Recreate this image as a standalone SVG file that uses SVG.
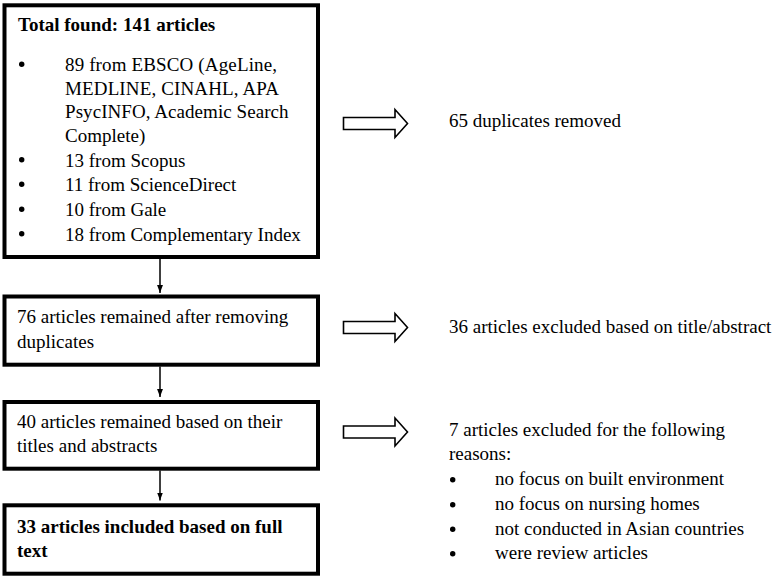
<svg xmlns="http://www.w3.org/2000/svg" width="776" height="579" viewBox="0 0 776 579">
<style>
.box{fill:#fff;stroke:#000;stroke-width:4}
text{font-family:"Liberation Serif","Times New Roman",serif;font-size:19px;fill:#000}
.b{font-weight:bold}
.con{stroke:#000;stroke-width:1.5;fill:none}
.hol{fill:#fff;stroke:#000;stroke-width:1.6;stroke-linejoin:miter}
.dot{fill:#000}
</style>
<defs>
<marker id="ah" markerWidth="8" markerHeight="11" refX="11" refY="4" orient="auto" markerUnits="userSpaceOnUse" viewBox="0 0 11 8">
<path d="M0,0 L11,4 L0,8 Z" fill="#000"/>
</marker>
<path id="hollow" d="M0,-6 L51.5,-6 L51.5,-14 L64,0 L51.5,14 L51.5,6 L0,6 Z"/>
</defs>
<rect width="776" height="579" fill="#fff"/>
<g id="connectors">
<line class="con" x1="160" y1="259" x2="160" y2="293" marker-end="url(#ah)"/>
<line class="con" x1="160" y1="366.5" x2="160" y2="397" marker-end="url(#ah)"/>
<line class="con" x1="160" y1="470.5" x2="160" y2="500.5" marker-end="url(#ah)"/>
<use href="#hollow" class="hol" x="343.5" y="123.5"/>
<use href="#hollow" class="hol" x="343.5" y="327.5"/>
<use href="#hollow" class="hol" x="343.5" y="432"/>
</g>
<g id="n1">
<rect class="box" x="4.5" y="5.3" width="313.5" height="251.7"/>
<text class="b" x="18" y="31">Total found: 141 articles</text>
<circle class="dot" cx="21.7" cy="64.3" r="2.7"/>
<text x="65" y="71" textLength="212" lengthAdjust="spacing">89 from EBSCO (AgeLine,</text>
<text x="65" y="94.5" textLength="214" lengthAdjust="spacing">MEDLINE, CINAHL, APA</text>
<text x="65" y="118" textLength="223.5" lengthAdjust="spacing">PsycINFO, Academic Search</text>
<text x="65" y="141.5">Complete)</text>
<circle class="dot" cx="21.7" cy="159.8" r="2.7"/>
<text x="65" y="166.5">13 from Scopus</text>
<circle class="dot" cx="21.7" cy="184.3" r="2.7"/>
<text x="65" y="191">11 from ScienceDirect</text>
<circle class="dot" cx="21.7" cy="209.3" r="2.7"/>
<text x="65" y="216">10 from Gale</text>
<circle class="dot" cx="21.7" cy="233.8" r="2.7"/>
<text x="65" y="240.5">18 from Complementary Index</text>
</g>
<g id="n2">
<rect class="box" x="4.5" y="296.5" width="313.5" height="68.2"/>
<text x="17" y="323">76 articles remained after removing</text>
<text x="17" y="348">duplicates</text>
</g>
<g id="n3">
<rect class="box" x="4.5" y="402" width="313.5" height="66.7"/>
<text x="17" y="428">40 articles remained based on their</text>
<text x="17" y="452">titles and abstracts</text>
</g>
<g id="n4">
<rect class="box" x="4.5" y="505.3" width="313.5" height="68.4"/>
<text class="b" x="17" y="533">33 articles included based on full</text>
<text class="b" x="17" y="557">text</text>
</g>
<g id="r1">
<text x="449" y="127">65 duplicates removed</text>
</g>
<g id="r2">
<text x="449" y="333">36 articles excluded based on title/abstract</text>
</g>
<g id="r3">
<text x="449" y="436">7 articles excluded for the following</text>
<text x="449" y="460">reasons:</text>
<circle class="dot" cx="452.7" cy="479.8" r="2.7"/>
<text x="495" y="485">no focus on built environment</text>
<circle class="dot" cx="452.7" cy="504.8" r="2.7"/>
<text x="495" y="510">no focus on nursing homes</text>
<circle class="dot" cx="452.7" cy="529.3" r="2.7"/>
<text x="495" y="534.5">not conducted in Asian countries</text>
<circle class="dot" cx="452.7" cy="553.8" r="2.7"/>
<text x="495" y="559">were review articles</text>
</g>
</svg>
